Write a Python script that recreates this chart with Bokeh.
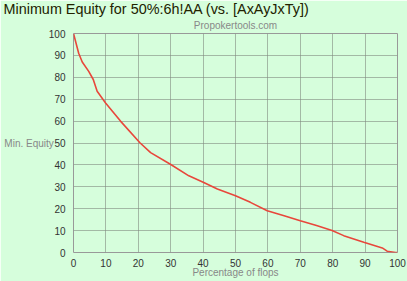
from bokeh.plotting import figure
from bokeh.models import Range1d, FixedTicker, Title
from bokeh.embed import file_html
from bokeh.resources import INLINE

pct_flops = [0, 1.6, 2.7, 4.7, 6.1, 7.3, 9.9, 14.5, 20.5, 23.8, 29.9, 35.6, 40.2, 44.4, 50.0, 54.6, 59.8, 65.0, 70.0, 75.0, 79.8, 83.4, 89.6, 95.3, 96.8, 99.4, 100]
min_equity = [100, 91, 87, 82.7, 79, 73.6, 68.3, 60, 50.1, 45.6, 40.3, 35, 32, 29, 25.9, 22.9, 19.1, 16.8, 14.5, 12.3, 10, 7.7, 4.7, 2.1, 0.6, 0, 0]
ticks = [0, 10, 20, 30, 40, 50, 60, 70, 80, 90, 100]

BG = "#d6fedc"
p = figure(width=407, height=281, output_backend="svg", toolbar_location=None,
           x_range=Range1d(0, 100), y_range=Range1d(0, 100),
           min_border_left=73, min_border_right=10, min_border_top=32, min_border_bottom=29,
           background_fill_color=BG, border_fill_color=BG, outline_line_color="#999999")

p.line(pct_flops, min_equity, line_color="#e8473b", line_width=1.6)

for ax in (p.xaxis[0], p.yaxis[0]):
    ax.ticker = FixedTicker(ticks=ticks)
    ax.axis_line_color = None
    ax.major_tick_line_color = None
    ax.minor_tick_line_color = None
    ax.major_label_text_font = "Liberation Sans"
    ax.major_label_text_font_size = "10px"
    ax.major_label_text_color = "#333333"
    ax.major_label_standoff = 2
    ax.axis_label_text_font = "Liberation Sans"
    ax.axis_label_text_font_size = "10px"
    ax.axis_label_text_font_style = "normal"
    ax.axis_label_text_color = "#888888"
p.xaxis[0].axis_label = "Percentage of flops"
p.xaxis[0].major_label_standoff = 0
p.xaxis[0].axis_label_standoff = -3
p.yaxis[0].axis_label = "Min. Equity"
p.yaxis[0].axis_label_orientation = "horizontal"
p.yaxis[0].axis_label_standoff = -8

p.grid.ticker = FixedTicker(ticks=ticks)
p.grid.grid_line_color = "#808a80"
p.grid.grid_line_alpha = 0.6

p.add_layout(Title(text="Propokertools.com", align="center", text_font="Liberation Sans",
                   text_font_size="10px", text_font_style="normal", text_color="#888888",
                   standoff=6), "above")
p.add_layout(Title(text="Minimum Equity for 50%:6h!AA (vs. [AxAyJxTy])", align="left",
                   offset=-70, text_font="Liberation Sans", text_font_size="14.4px",
                   text_font_style="normal", text_color="#222200", standoff=-4,
                   text_line_height=0.8), "above")

open("out.html", "w").write(file_html(p, INLINE))
